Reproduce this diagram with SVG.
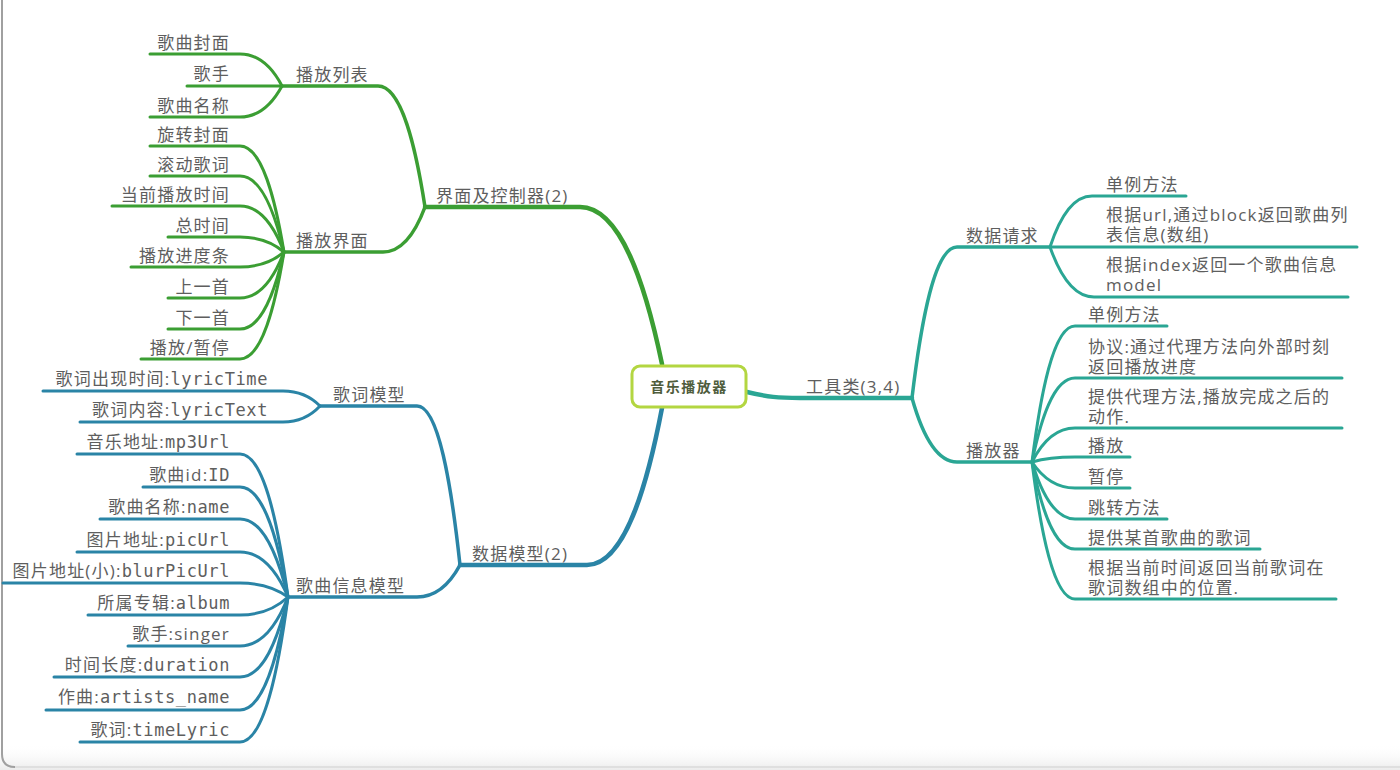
<svg xmlns="http://www.w3.org/2000/svg" width="1400" height="770" viewBox="0 0 1400 770">
<defs>
<linearGradient id="shade" x1="0" y1="0" x2="0" y2="1">
<stop offset="0" stop-color="#ffffff" stop-opacity="0"/>
<stop offset="1" stop-color="#ebebeb"/>
</linearGradient>
</defs>
<style>
.t{font-family:"Open Sans","Noto Sans CJK SC",sans-serif;font-size:17px;fill:#5e5e5e;letter-spacing:1.2px}
.r{text-anchor:end}
.m{font-family:"DejaVu Sans Mono",monospace;letter-spacing:0.6px}
.g{fill:none;stroke:#3b9e33;stroke-linecap:round}
.b{fill:none;stroke:#2a84a6;stroke-linecap:round}
.c{fill:none;stroke:#2aa694;stroke-linecap:round}
.w1{stroke-width:4.5}
.w2{stroke-width:3.5}
.w3{stroke-width:3}
</style>
<rect x="0" y="0" width="1400" height="770" fill="#ffffff"/>
<rect x="0" y="744" width="1400" height="26" fill="url(#shade)"/>
<path d="M15,767 H1400" fill="none" stroke="#dadada" stroke-width="1.5"/>
<path d="M2,0 V754 Q2,767 15,767" fill="none" stroke="#a0a0a0" stroke-width="2"/>

<g id="connectors">
<!-- green -->
<path class="g w1" d="M662,364 C645.6,285.5 621,207 580,207 L425,207"/>
<path class="g w2" d="M425,207 C415.6,146.5 401.5,86 378,86 L282,86"/>
<path class="g w2" d="M425,207 C416.6,229.5 404,252 383,252 L284,252"/>
<path class="g w3" d="M282,86 C273.6,70 261,54 240,54 L150,54"/>
<path class="g w3" d="M282,86 L187,86"/>
<path class="g w3" d="M282,86 C273.6,101.5 261,117 240,117 L150,117"/>
<path class="g w3" d="M284,252 C275.2,199 262,146 240,146 L150,146"/>
<path class="g w3" d="M284,252 C275.2,214 262,176 240,176 L150,176"/>
<path class="g w3" d="M284,252 C275.2,229 262,206 240,206 L112,206"/>
<path class="g w3" d="M284,252 C275.2,244.5 262,237 240,237 L168,237"/>
<path class="g w3" d="M284,252 C275.2,259.5 262,267 240,267 L131,267"/>
<path class="g w3" d="M284,252 C275.2,275 262,298 240,298 L168,298"/>
<path class="g w3" d="M284,252 C275.2,290.5 262,329 240,329 L168,329"/>
<path class="g w3" d="M284,252 C275.2,305.5 262,359 240,359 L141,359"/>
<!-- blue -->
<path class="b w1" d="M662,408 C647,486.5 624.5,565 587,565 L460,565"/>
<path class="b w2" d="M460,565 C451.4,485.5 438.5,406 417,406 L320,406"/>
<path class="b w2" d="M460,565 C451.4,581 438.5,597 417,597 L288,597"/>
<path class="b w3" d="M320,406 C312.6,398.5 301.5,391 283,391 L43,391"/>
<path class="b w3" d="M320,406 C312.6,414 301.5,422 283,422 L80,422"/>
<path class="b w3" d="M288,597 C278.4,525.5 264,454 240,454 L77,454"/>
<path class="b w3" d="M288,597 C278.4,542 264,487 240,487 L143,487"/>
<path class="b w3" d="M288,597 C278.4,558 264,519 240,519 L100,519"/>
<path class="b w3" d="M288,597 C278.4,574.5 264,552 240,552 L77,552"/>
<path class="b w3" d="M288,597 C278.4,590 264,583 240,583 L3,583"/>
<path class="b w3" d="M288,597 C278.4,606 264,615 240,615 L88,615"/>
<path class="b w3" d="M288,597 C278.4,621.5 264,646 240,646 L128,646"/>
<path class="b w3" d="M288,597 C278.4,637 264,677 240,677 L54,677"/>
<path class="b w3" d="M288,597 C278.4,653.5 264,710 240,710 L46,710"/>
<path class="b w3" d="M288,597 C278.4,669.5 264,742 240,742 L80,742"/>
<!-- teal -->
<path class="c w1" d="M747,392 C768,397 778,398 800,398 L912,398"/>
<path class="c w2" d="M912,398 C921,322.5 934.5,247 957,247 L1050,247"/>
<path class="c w2" d="M912,398 C921,430 934.5,462 957,462 L1032,462"/>
<path class="c w3" d="M1050,247 C1058.4,221.5 1071,196 1092,196 L1186,196"/>
<path class="c w3" d="M1050,247 L1357,247"/>
<path class="c w3" d="M1050,247 C1058.8,272 1072,297 1094,297 L1348,297"/>
<path class="c w3" d="M1032,462 C1040.6,394 1053.5,326 1075,326 L1167,326"/>
<path class="c w3" d="M1032,462 C1040.6,420 1053.5,378 1075,378 L1342,378"/>
<path class="c w3" d="M1032,462 C1040.6,445 1053.5,428 1075,428 L1342,428"/>
<path class="c w3" d="M1032,462 C1040.6,459.5 1053.5,457 1075,457 L1130,457"/>
<path class="c w3" d="M1032,462 C1040.6,475 1053.5,488 1075,488 L1130,488"/>
<path class="c w3" d="M1032,462 C1040.6,490.5 1053.5,519 1075,519 L1167,519"/>
<path class="c w3" d="M1032,462 C1040.6,505.5 1053.5,549 1075,549 L1260,549"/>
<path class="c w3" d="M1032,462 C1040.6,530.5 1053.5,599 1075,599 L1336,599"/>
</g>

<g id="root">
<rect x="632" y="366" width="114" height="41" rx="8" fill="#ffffff" stroke="#b3d641" stroke-width="3"/>
<text x="689" y="392" text-anchor="middle" style="font-family:'Noto Sans CJK SC',sans-serif;font-size:14px;font-weight:600;fill:#4f5d3c;letter-spacing:1.5px">音乐播放器</text>
</g>

<g id="n-ui"><text class="t" x="436" y="202">界面及控制器(2)</text></g>
<g id="n-playlist"><text class="t" x="296" y="81">播放列表</text></g>
<g id="n-playlist-1"><text class="t r" x="230" y="49">歌曲封面</text></g>
<g id="n-playlist-2"><text class="t r" x="230" y="80">歌手</text></g>
<g id="n-playlist-3"><text class="t r" x="230" y="112">歌曲名称</text></g>
<g id="n-playui"><text class="t" x="296" y="247">播放界面</text></g>
<g id="n-playui-1"><text class="t r" x="230" y="141">旋转封面</text></g>
<g id="n-playui-2"><text class="t r" x="230" y="171">滚动歌词</text></g>
<g id="n-playui-3"><text class="t r" x="230" y="201">当前播放时间</text></g>
<g id="n-playui-4"><text class="t r" x="230" y="232">总时间</text></g>
<g id="n-playui-5"><text class="t r" x="230" y="262">播放进度条</text></g>
<g id="n-playui-6"><text class="t r" x="230" y="293">上一首</text></g>
<g id="n-playui-7"><text class="t r" x="230" y="324">下一首</text></g>
<g id="n-playui-8"><text class="t r" x="230" y="354">播放/暂停</text></g>

<g id="n-model"><text class="t" x="472" y="560">数据模型(2)</text></g>
<g id="n-lyric"><text class="t" x="333" y="401">歌词模型</text></g>
<g id="n-lyric-1"><text class="t r" x="268" y="385">歌词出现时间:<tspan class="m">lyricTime</tspan></text></g>
<g id="n-lyric-2"><text class="t r" x="268" y="416">歌词内容:<tspan class="m">lyricText</tspan></text></g>
<g id="n-song"><text class="t" x="296" y="592">歌曲信息模型</text></g>
<g id="n-song-1"><text class="t r" x="230" y="448">音乐地址:<tspan class="m">mp3Url</tspan></text></g>
<g id="n-song-2"><text class="t r" x="230" y="481">歌曲id:<tspan class="m">ID</tspan></text></g>
<g id="n-song-3"><text class="t r" x="230" y="513">歌曲名称:<tspan class="m">name</tspan></text></g>
<g id="n-song-4"><text class="t r" x="230" y="546">图片地址:<tspan class="m">picUrl</tspan></text></g>
<g id="n-song-5"><text class="t r" x="230" y="577">图片地址(小):<tspan class="m">blurPicUrl</tspan></text></g>
<g id="n-song-6"><text class="t r" x="230" y="609">所属专辑:<tspan class="m">album</tspan></text></g>
<g id="n-song-7"><text class="t r" x="230" y="640">歌手:singer</text></g>
<g id="n-song-8"><text class="t r" x="230" y="671">时间长度:<tspan class="m">duration</tspan></text></g>
<g id="n-song-9"><text class="t r" x="230" y="703">作曲:<tspan class="m">artists_name</tspan></text></g>
<g id="n-song-10"><text class="t r" x="230" y="736">歌词:<tspan class="m">timeLyric</tspan></text></g>

<g id="n-tools"><text class="t" x="806" y="393">工具类(3,4)</text></g>
<g id="n-req"><text class="t" x="966" y="242">数据请求</text></g>
<g id="n-req-1"><text class="t" x="1106" y="191">单例方法</text></g>
<g id="n-req-2"><text class="t" x="1106" y="221">根据url,通过block返回歌曲列</text><text class="t" x="1106" y="241">表信息(数组)</text></g>
<g id="n-req-3"><text class="t" x="1106" y="271">根据index返回一个歌曲信息</text><text class="t" x="1106" y="291">model</text></g>
<g id="n-player"><text class="t" x="966" y="457">播放器</text></g>
<g id="n-player-1"><text class="t" x="1088" y="321">单例方法</text></g>
<g id="n-player-2"><text class="t" x="1088" y="353">协议:通过代理方法向外部时刻</text><text class="t" x="1088" y="373">返回播放进度</text></g>
<g id="n-player-3"><text class="t" x="1088" y="403">提供代理方法,播放完成之后的</text><text class="t" x="1088" y="423">动作.</text></g>
<g id="n-player-4"><text class="t" x="1088" y="452">播放</text></g>
<g id="n-player-5"><text class="t" x="1088" y="483">暂停</text></g>
<g id="n-player-6"><text class="t" x="1088" y="514">跳转方法</text></g>
<g id="n-player-7"><text class="t" x="1088" y="544">提供某首歌曲的歌词</text></g>
<g id="n-player-8"><text class="t" x="1088" y="574">根据当前时间返回当前歌词在</text><text class="t" x="1088" y="594">歌词数组中的位置.</text></g>
</svg>
